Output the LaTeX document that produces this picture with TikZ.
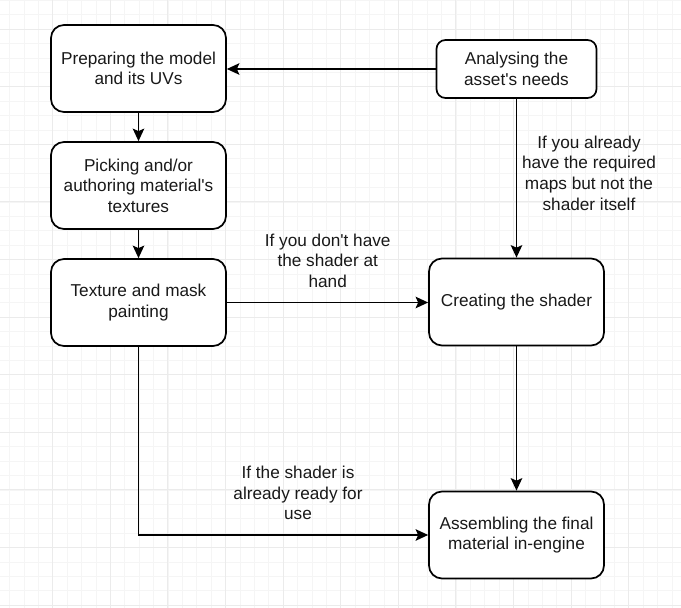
\documentclass[tikz,border=0pt]{standalone}
\usepackage{fontspec}
\setmainfont{Liberation Sans}
\usetikzlibrary{arrows.meta}
\newcommand{\ap}{\textquotesingle}
\begin{document}
\begin{tikzpicture}[x=1pt,y=-1pt,
  txt/.style={font=\fontsize{17.2}{20.6}\selectfont, text=black!90, align=center, inner sep=0pt},
  box/.style={txt, draw=black, line width=1.7pt, fill=white, rounded corners=13pt,
    minimum width=175pt, minimum height=87pt},
  smallbox/.style={box, rounded corners=9pt, minimum width=160pt, minimum height=58pt},
  lbl/.style={txt},
  conn/.style={draw=black, line width=1.7pt, -{Stealth[length=12.5pt,width=11.5pt,inset=2.5pt]}},
  minorgrid/.style={draw=black!4, line width=0.6pt},
  majorgrid/.style={draw=black!8, line width=0.7pt},
]
\useasboundingbox[fill=white] (0,0) rectangle (681,608);
% grid
\foreach \i in {-3,...,43} {
  \draw[minorgrid] ({52.6+14.4*\i},0) -- ({52.6+14.4*\i},608);
}
\foreach \j in {-2,...,40} {
  \draw[minorgrid] (0,{29+14.4*\j}) -- (681,{29+14.4*\j});
}
\foreach \i in {-1,...,11} {
  \draw[majorgrid] ({52.6+57.6*\i},0) -- ({52.6+57.6*\i},608);
}
\foreach \j in {-1,...,10} {
  \draw[majorgrid] (0,{29+57.6*\j}) -- (681,{29+57.6*\j});
}
% boxes
\node[box] (b1) at (138.5,68.5) {Preparing the model\\and its UVs};
\node[smallbox] (b2) at (516.5,69) {Analysing the\\asset\ap s needs};
\node[box] (b3) at (138.5,185.5) {Picking and/or\\authoring material\ap s\\textures};
\node[box] (b4) at (138.5,302.5) {Texture and mask\\painting};
\node[box] (b5) at (516.5,302) {Creating the shader};
\node[box] (b6) at (516.5,535) {Assembling the final\\material in-engine};
% labels
\node[lbl] (l1) at (589,173) {If you already\\have the required\\maps but not the\\shader itself};
\node[lbl] (l2) at (327.7,260.5) {If you don\ap t have\\the shader at\\hand};
\node[lbl] (l3) at (298,493) {If the shader is\\already ready for\\use};
% connectors
\draw[conn] (b2.west) -- (b2.west -| b1.east);
\draw[conn] (b1.south) -- (b3.north);
\draw[conn] (b3.south) -- (b4.north);
\draw[conn] (b2.south) -- (b5.north);
\draw[conn] (b4.east) -- (b4.east -| b5.west);
\draw[conn] (b5.south) -- (b6.north);
\draw[conn] (b4.south) |- (b6.west);
\end{tikzpicture}
\end{document}
